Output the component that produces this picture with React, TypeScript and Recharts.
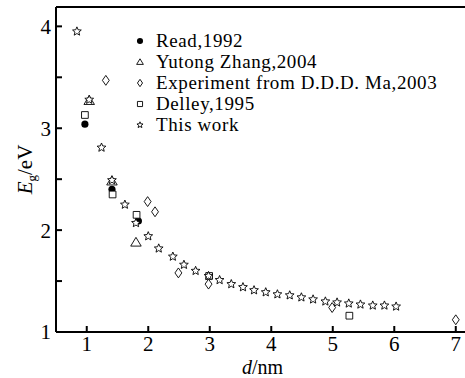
import { ReferenceLine, Scatter, ScatterChart, XAxis, YAxis } from "recharts";

const readD = [0.97, 1.41, 1.84];
const readEg = [3.04, 2.4, 2.09];

const zhangD = [1.04, 1.41, 1.8];
const zhangEg = [3.27, 2.48, 1.88];

const maD = [1.31, 1.99, 2.11, 2.49, 2.98, 4.99, 7.0];
const maEg = [3.47, 2.28, 2.18, 1.58, 1.47, 1.24, 1.12];

const delleyD = [0.97, 1.42, 1.81, 2.99, 5.27];
const delleyEg = [3.13, 2.35, 2.15, 1.55, 1.16];

const workD = [
  0.84, 1.04, 1.24, 1.41, 1.62, 1.8, 2.0, 2.17, 2.4, 2.58, 2.77, 2.98, 3.16, 3.35, 3.54, 3.72, 3.91,
  4.1, 4.3, 4.49, 4.68, 4.88, 5.07, 5.26, 5.45, 5.65, 5.84, 6.03,
];
const workEg = [
  3.95, 3.28, 2.81, 2.49, 2.25, 2.07, 1.94, 1.82, 1.74, 1.66, 1.6, 1.55, 1.51, 1.47, 1.44, 1.41,
  1.39, 1.37, 1.36, 1.34, 1.32, 1.3, 1.29, 1.28, 1.27, 1.26, 1.26, 1.25,
];

const xTicks = [1, 2, 3, 4, 5, 6, 7];
const yTicks = [1, 1.5, 2, 2.5, 3, 3.5, 4];

const FONT = '"Liberation Serif", "DejaVu Serif", serif';

const toPoints = (d: number[], eg: number[]) => d.map((x, i) => ({ d: x, eg: eg[i] }));

type Kind = "circle" | "triangle" | "diamond" | "square" | "star";

function markerPath(kind: Kind, cx: number, cy: number, s: number) {
  switch (kind) {
    case "triangle":
      return `M${cx},${cy - s}L${cx + s * 1.05},${cy + s * 0.75}L${cx - s * 1.05},${cy + s * 0.75}Z`;
    case "diamond":
      return `M${cx},${cy - s * 1.15}L${cx + s * 0.8},${cy}L${cx},${cy + s * 1.15}L${cx - s * 0.8},${cy}Z`;
    case "square":
      return `M${cx - s * 0.8},${cy - s * 0.8}h${s * 1.6}v${s * 1.6}h${-s * 1.6}Z`;
    case "star": {
      let p = "";
      for (let i = 0; i < 10; i++) {
        const r = i % 2 === 0 ? s : s * 0.45;
        const a = -Math.PI / 2 + (i * Math.PI) / 5;
        p += `${i === 0 ? "M" : "L"}${cx + r * Math.cos(a)},${cy + r * Math.sin(a)}`;
      }
      return p + "Z";
    }
    default:
      return "";
  }
}

function Marker({ kind, cx, cy, s }: { kind: Kind; cx: number; cy: number; s: number }) {
  if (kind === "circle") return <circle cx={cx} cy={cy} r={s * 0.85} fill="#000" />;
  return <path d={markerPath(kind, cx, cy, s)} fill="#fff" stroke="#000" strokeWidth={0.9} />;
}

const shapeOf = (kind: Kind, s: number) => (props: any) => (
  <Marker kind={kind} cx={props.cx} cy={props.cy} s={s} />
);

const legendItems: { kind: Kind; label: string }[] = [
  { kind: "circle", label: "Read,1992" },
  { kind: "triangle", label: "Yutong Zhang,2004" },
  { kind: "diamond", label: "Experiment from D.D.D. Ma,2003" },
  { kind: "square", label: "Delley,1995" },
  { kind: "star", label: "This work" },
];

function LegendBox() {
  return (
    <div
      style={{
        position: "absolute",
        left: 133,
        top: 30,
        fontFamily: FONT,
        fontSize: 19,
        letterSpacing: 0.6,
        color: "#000",
        lineHeight: "21.1px",
      }}
    >
      {legendItems.map((it) => (
        <div key={it.label} style={{ display: "flex", alignItems: "center", whiteSpace: "nowrap" }}>
          <svg width={14} height={21} style={{ marginRight: 9 }}>
            <Marker kind={it.kind} cx={7} cy={11} s={it.kind === "circle" ? 3.6 : 3.2} />
          </svg>
          <span>{it.label}</span>
        </div>
      ))}
    </div>
  );
}

function YLabel({ viewBox }: any) {
  const x = 32;
  const y = viewBox.y + viewBox.height / 2;
  return (
    <text
      x={x}
      y={y}
      transform={`rotate(-90 ${x} ${y})`}
      textAnchor="middle"
      fontFamily={FONT}
      fontSize={21}
      fill="#000"
    >
      <tspan fontStyle="italic">E</tspan>
      <tspan fontSize={13} dy={4}>
        g
      </tspan>
      <tspan dy={-4}>/eV</tspan>
    </text>
  );
}

function XLabel({ viewBox }: any) {
  return (
    <text
      x={viewBox.x + viewBox.width / 2 + 2}
      y={374}
      textAnchor="middle"
      fontFamily={FONT}
      fontSize={20}
      fill="#000"
    >
      <tspan fontStyle="italic">d</tspan>
      <tspan>/nm</tspan>
    </text>
  );
}

const tickStyle = { fill: "#000", fontFamily: FONT, fontSize: 21 };

export default function App() {
  return (
    <div style={{ position: "absolute", left: 0, top: 0, width: 465, height: 378, background: "#fff" }}>
      <ScatterChart width={465} height={378} margin={{ top: 7, right: 0, bottom: 0, left: 0 }}>
        <XAxis
          type="number"
          dataKey="d"
          domain={[0.5, 7.15]}
          ticks={xTicks}
          height={46}
          allowDataOverflow
          stroke="#000"
          axisLine={{ stroke: "#000", strokeWidth: 2 }}
          tickLine={{ stroke: "#000", strokeWidth: 2 }}
          tickSize={-6}
          tickMargin={10}
          tick={tickStyle}
          label={<XLabel />}
        />
        <YAxis
          type="number"
          dataKey="eg"
          domain={[1, 4.19]}
          ticks={yTicks}
          width={56}
          allowDataOverflow
          stroke="#000"
          axisLine={{ stroke: "#000", strokeWidth: 2 }}
          tickLine={{ stroke: "#000", strokeWidth: 2 }}
          tickSize={-6}
          tickMargin={11}
          tick={tickStyle}
          tickFormatter={(v: number) => (Number.isInteger(v) ? String(v) : "")}
          label={<YLabel />}
        />
        <ReferenceLine y={4.19} stroke="#000" strokeWidth={2} ifOverflow="visible" />
        <Scatter
          name="Read,1992"
          data={toPoints(readD, readEg)}
          shape={shapeOf("circle", 4.2)}
          isAnimationActive={false}
        />
        <Scatter
          name="Yutong Zhang,2004"
          data={toPoints(zhangD, zhangEg)}
          shape={shapeOf("triangle", 5)}
          isAnimationActive={false}
        />
        <Scatter
          name="Experiment from D.D.D. Ma,2003"
          data={toPoints(maD, maEg)}
          shape={shapeOf("diamond", 4.3)}
          isAnimationActive={false}
        />
        <Scatter
          name="Delley,1995"
          data={toPoints(delleyD, delleyEg)}
          shape={shapeOf("square", 4.2)}
          isAnimationActive={false}
        />
        <Scatter
          name="This work"
          data={toPoints(workD, workEg)}
          shape={shapeOf("star", 4.6)}
          isAnimationActive={false}
        />
      </ScatterChart>
      <LegendBox />
    </div>
  );
}
